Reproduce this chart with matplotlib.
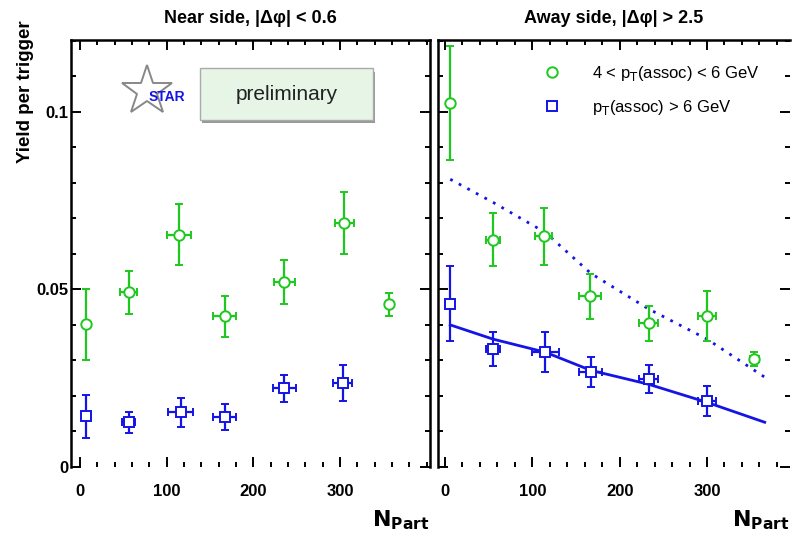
import matplotlib
matplotlib.use("Agg")
import matplotlib.pyplot as plt
from matplotlib.ticker import MultipleLocator
from matplotlib.lines import Line2D
from matplotlib.patches import Rectangle

plt.rcParams['font.family'] = ['Liberation Sans', 'DejaVu Sans']

# near side, 4 < pT(assoc) < 6 GeV
near_lo_npart = [7, 56, 114, 167, 236, 305, 357]
near_lo_yield = [0.0402, 0.0492, 0.0654, 0.0424, 0.0520, 0.0688, 0.0458]
near_lo_err = [0.0100, 0.0060, 0.0085, 0.0057, 0.0062, 0.0087, 0.0032]
near_lo_xerr = [0, 10, 14, 13, 12, 11, 4]

# near side, pT(assoc) > 6 GeV
near_hi_npart = [7, 56, 116, 167, 236, 303]
near_hi_yield = [0.0143, 0.0126, 0.0154, 0.0140, 0.0222, 0.0236]
near_hi_err = [0.0060, 0.0030, 0.0040, 0.0037, 0.0038, 0.0050]
near_hi_xerr = [0, 8, 15, 13, 13, 11]

# away side, 4 < pT(assoc) < 6 GeV
away_lo_npart = [6, 55, 113, 166, 233, 300, 354]
away_lo_yield = [0.1025, 0.0640, 0.0650, 0.0480, 0.0404, 0.0425, 0.0303]
away_lo_err = [0.0160, 0.0075, 0.0080, 0.0062, 0.0050, 0.0070, 0.0020]
away_lo_xerr = [0, 8, 10, 13, 11, 10, 5]

# away side, pT(assoc) > 6 GeV
away_hi_npart = [6, 55, 115, 167, 233, 300]
away_hi_yield = [0.0460, 0.0331, 0.0323, 0.0267, 0.0247, 0.0186]
away_hi_err = [0.0105, 0.0048, 0.0056, 0.0043, 0.0040, 0.0043]
away_hi_xerr = [0, 8, 15, 13, 11, 10]

# scaled near-side curves drawn on away side
curve_npart = [6, 55, 115, 167, 233, 300, 366]
curve_solid = [0.0400, 0.0360, 0.0323, 0.0272, 0.0233, 0.0182, 0.0126]
curve_dotted = [0.0810, 0.0745, 0.0660, 0.0545, 0.0445, 0.0360, 0.0253]

x_ticks = [0, 100, 200, 300]

GREEN = '#1ec81e'
BLUE = '#1414e6'

fig = plt.figure(figsize=(7.94, 5.39), dpi=100)
ax1 = fig.add_axes([71/794, 1-467/539, 359/794, 427/539])
ax2 = fig.add_axes([438/794, 1-467/539, 352/794, 427/539])

err_kw = dict(linestyle='none', elinewidth=1.6, capsize=3, capthick=1.6,
              markersize=7.5, markerfacecolor='white', markeredgewidth=1.4)

ax1.errorbar(near_lo_npart, near_lo_yield, yerr=near_lo_err, xerr=near_lo_xerr,
             marker='o', color=GREEN, **err_kw)
ax1.errorbar(near_hi_npart, near_hi_yield, yerr=near_hi_err, xerr=near_hi_xerr,
             marker='s', color=BLUE, **err_kw)

ax2.plot(curve_npart, curve_dotted, color=BLUE, linestyle=(0, (1, 2.5)), lw=2)
ax2.plot(curve_npart, curve_solid, color=BLUE, linestyle='-', lw=2)
ax2.errorbar(away_lo_npart, away_lo_yield, yerr=away_lo_err, xerr=away_lo_xerr,
             marker='o', color=GREEN, **err_kw)
ax2.errorbar(away_hi_npart, away_hi_yield, yerr=away_hi_err, xerr=away_hi_xerr,
             marker='s', color=BLUE, **err_kw)

ax1.set_xlim(-10.4, 404)
ax2.set_xlim(-8, 395)
for ax in (ax1, ax2):
    ax.set_ylim(0, 0.1202)
    ax.set_xticks(x_ticks)
    ax.xaxis.set_minor_locator(MultipleLocator(20))
    ax.yaxis.set_major_locator(MultipleLocator(0.05))
    ax.yaxis.set_minor_locator(MultipleLocator(0.01))
    ax.tick_params(which='both', direction='in', top=True, right=True, width=1.4)
    ax.tick_params(which='major', length=7, labelsize=12)
    ax.tick_params(which='minor', length=3.5)
    ax.tick_params(axis='x', pad=12)
    ax.tick_params(axis='y', pad=2)
    ax.spines['bottom'].set_visible(False)
    for s in ('left', 'top', 'right'):
        ax.spines[s].set_linewidth(1.8)
    for lab in ax.get_xticklabels() + ax.get_yticklabels():
        lab.set_fontweight('bold')

ax1.set_yticks([0, 0.05, 0.1])
ax1.set_yticklabels(['0', '0.05', '0.1'], fontweight='bold')
ax2.spines['right'].set_visible(False)
ax2.tick_params(labelleft=False)

ax1.set_title('Near side, |Δφ| < 0.6', fontsize=13, fontweight='bold', pad=12)
ax2.set_title('Away side, |Δφ| > 2.5', fontsize=13, fontweight='bold', pad=12)

fig.text(0.032, 1-92/539, 'Yield per trigger', rotation=90, ha='center', va='center',
         fontsize=13.5, fontweight='bold')
fig.text(430/794, 1-520/539, r'$\mathbf{N_{Part}}$', ha='right', va='center', fontsize=16)
fig.text(790/794, 1-520/539, r'$\mathbf{N_{Part}}$', ha='right', va='center', fontsize=16)

# STAR logo and preliminary box
ax1.plot([0.212], [0.88], marker='*', markersize=38, markerfacecolor='white',
         markeredgecolor='#888888', markeredgewidth=1.4, transform=ax1.transAxes, clip_on=False)
ax1.text(0.267, 0.866, 'STAR', color=BLUE, fontsize=10, fontweight='bold',
         ha='center', va='center', transform=ax1.transAxes)
ax1.add_patch(Rectangle((0.366, 0.805), 0.482, 0.121, transform=ax1.transAxes,
                        facecolor='#999999', edgecolor='none'))
ax1.add_patch(Rectangle((0.359, 0.813), 0.482, 0.121, transform=ax1.transAxes,
                        facecolor='#e6f5e6', edgecolor='#aaaaaa', lw=1))
ax1.text(0.60, 0.873, 'preliminary', fontsize=15, color='#222222', ha='center', va='center',
         transform=ax1.transAxes)

handles = [Line2D([], [], marker='o', linestyle='none', color=GREEN, markerfacecolor='white',
                  markersize=7.5, markeredgewidth=1.4),
           Line2D([], [], marker='s', linestyle='none', color=BLUE, markerfacecolor='white',
                  markersize=7.5, markeredgewidth=1.4)]
ax2.legend(handles, [r'4 < p$_{\rm T}$(assoc) < 6 GeV', r'p$_{\rm T}$(assoc) > 6 GeV'],
           loc='upper left', bbox_to_anchor=(0.235, 0.98), frameon=False, fontsize=12,
           handletextpad=1.4, labelspacing=0.9)

fig.savefig('out.png', dpi=100)
